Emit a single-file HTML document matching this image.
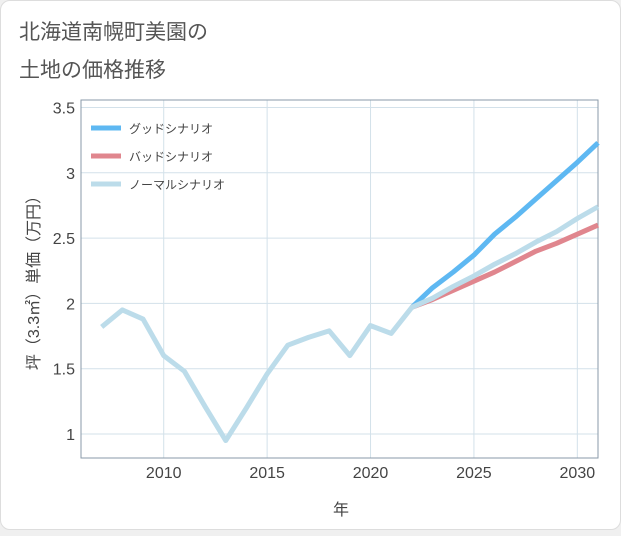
<!DOCTYPE html>
<html><head><meta charset="utf-8"><style>
body{margin:0;background:#f0f0f0;font-family:"Liberation Sans","Noto Sans CJK JP",sans-serif;}
#card{position:absolute;left:0;top:0;width:619px;height:528px;background:#fff;border:1px solid #ddd;border-radius:10px;}
</style></head><body>
<div id="card">
<svg width="621" height="530">
<text x="18" y="38" font-size="21" fill="#555">北海道南幌町美園の</text>
<text x="18" y="76" font-size="21" fill="#555">土地の価格推移</text>
<g id="grid"></g>
<rect x="80" y="99" width="517" height="358" fill="none" stroke="#8a9aa8" stroke-width="1"/>
<g id="series"></g>
<g id="axes"></g>
<text x="340" y="514" font-size="16" fill="#444" text-anchor="middle">年</text>
<text transform="translate(38,278) rotate(-90)" font-size="16" fill="#444" text-anchor="middle">坪（3.3㎡）単価（万円）</text>
<g>
<line x1="90" y1="127" x2="120" y2="127" stroke="#5eb8f2" stroke-width="5"/>
<text x="128" y="132" font-size="12" fill="#444">グッドシナリオ</text>
<line x1="90" y1="155" x2="120" y2="155" stroke="#e0868e" stroke-width="5"/>
<text x="128" y="160" font-size="12" fill="#444">バッドシナリオ</text>
<line x1="90" y1="183" x2="120" y2="183" stroke="#bcdcea" stroke-width="5"/>
<text x="128" y="188" font-size="12" fill="#444">ノーマルシナリオ</text>
</g>
</svg></div>
<script>
const normalYears=[2007,2008,2009,2010,2011,2012,2013,2014,2015,2016,2017,2018,2019,2020,2021,2022,2023,2024,2025,2026,2027,2028,2029,2030,2031];
const normalValues=[1.82,1.95,1.88,1.60,1.48,1.21,0.95,1.20,1.46,1.68,1.74,1.79,1.60,1.83,1.77,1.97,2.04,2.13,2.21,2.30,2.38,2.47,2.55,2.65,2.74];
const forecastYears=[2022,2023,2024,2025,2026,2027,2028,2029,2030,2031];
const goodValues=[1.97,2.12,2.24,2.37,2.53,2.66,2.80,2.94,3.08,3.23];
const badValues=[1.97,2.03,2.10,2.17,2.24,2.32,2.40,2.46,2.53,2.60];
const xTicks=[2010,2015,2020,2025,2030];
const yTicks=[1,1.5,2,2.5,3,3.5];
const yTickLabels=["1","1.5","2","2.5","3","3.5"];
const NS="http://www.w3.org/2000/svg";
function xs(v){return 80+(v-2006)*(517/25);}
function ys(v){return 433-(v-1)*130.6;}
const grid=document.getElementById('grid'),axes=document.getElementById('axes'),series=document.getElementById('series');
xTicks.forEach(t=>{
 const l=document.createElementNS(NS,'line');
 
 
 l.setAttribute('x1',xs(t));l.setAttribute('x2',xs(t));l.setAttribute('y1',99);l.setAttribute('y2',457);l.setAttribute('stroke','#d3e1ea');grid.appendChild(l);
 const tx=document.createElementNS(NS,'text');
 
 
 tx.setAttribute('x',xs(t));tx.setAttribute('y',477);tx.setAttribute('font-size','16');tx.setAttribute('fill','#444');tx.setAttribute('text-anchor','middle');tx.textContent=t;axes.appendChild(tx);
});
yTicks.forEach((t,i)=>{
 const l=document.createElementNS(NS,'line');
 
 
 l.setAttribute('x1',80);l.setAttribute('x2',597);l.setAttribute('y1',ys(t));l.setAttribute('y2',ys(t));l.setAttribute('stroke','#d3e1ea');grid.appendChild(l);
 const tx=document.createElementNS(NS,'text');
 
 
 tx.setAttribute('x',74);tx.setAttribute('y',ys(t)+6);tx.setAttribute('font-size','16');tx.setAttribute('fill','#444');tx.setAttribute('text-anchor','end');tx.textContent=yTickLabels[i];axes.appendChild(tx);
});
function line(xsArr,vals,color,name){
 const p=document.createElementNS(NS,'polyline');
 
 
 p.setAttribute('points',xsArr.map((x,i)=>xs(x)+','+ys(vals[i])).join(' '));
 p.setAttribute('fill','none');p.setAttribute('stroke',color);p.setAttribute('stroke-width','5');p.setAttribute('stroke-linejoin','round');
 series.appendChild(p);
}
line(forecastYears,goodValues,'#5eb8f2','good-scenario-line');
line(forecastYears,badValues,'#e0868e','bad-scenario-line');
line(normalYears,normalValues,'#bcdcea','normal-scenario-line');
</script>
</body></html>
